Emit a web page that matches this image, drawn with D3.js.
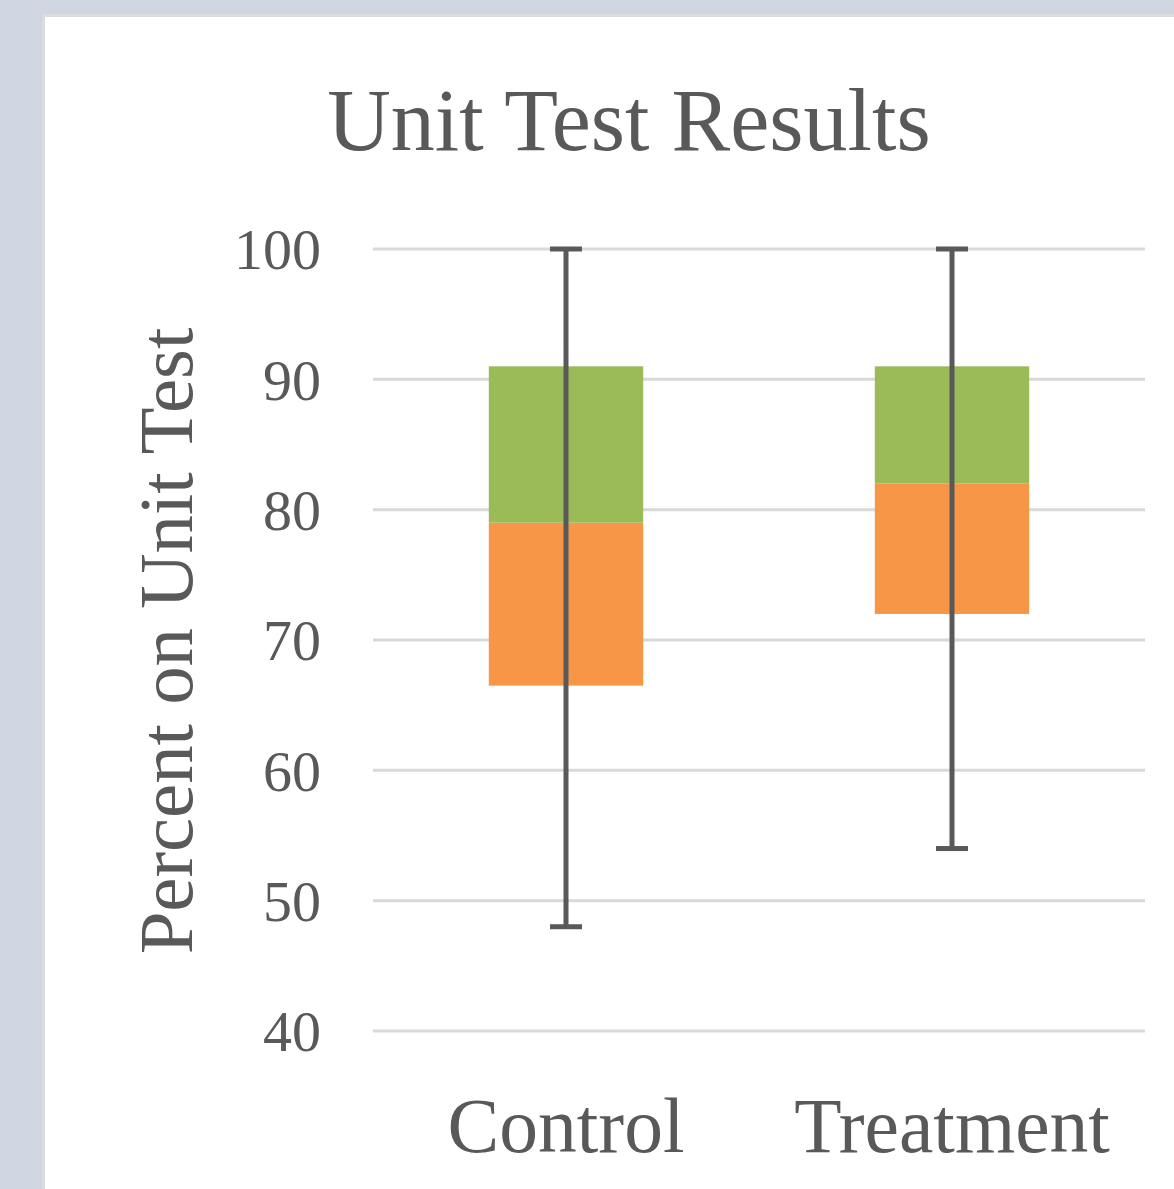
<!DOCTYPE html>
<html><head><meta charset="utf-8">
<script src="https://cdn.jsdelivr.net/npm/d3@7"></script>
<style>html,body{margin:0;padding:0;background:#cfd6e2;}svg{display:block;}</style>
</head><body>
<svg id="c" width="1174" height="1189"></svg>
<script>
const categories = ["Control", "Treatment"];
const minVals = [48, 54];
const q1Vals = [66.5, 72];
const medianVals = [79, 82];
const q3Vals = [91, 91];
const maxVals = [100, 100];
const yTicks = [40, 50, 60, 70, 80, 90, 100];
const titleText = "Unit Test Results";
const yTitle = "Percent on Unit Test";

(function () {
const svg = d3.select("#c");
const W = 1174, H = 1189;
svg.append("rect").attr("x", 0).attr("y", 0).attr("width", W).attr("height", H).attr("fill", "#cfd6e2");
svg.append("rect").attr("x", 42).attr("y", 14).attr("width", W).attr("height", H).attr("fill", "#dcdcdc");
svg.append("rect").attr("x", 45).attr("y", 17).attr("width", W).attr("height", H).attr("fill", "#ffffff");

const pL = 373, pR = 1145, pT = 249, pB = 1031;
const y = d3.scaleLinear().domain([40, 100]).range([pB, pT]);
const x = d3.scaleBand().domain(categories).range([pL, pR]).paddingInner(0.6).paddingOuter(0.3);

const font = "'Liberation Serif','Times New Roman',serif";
const txt = "#595959";

// gridlines
svg.append("g").selectAll("line").data(yTicks).join("line")
  .attr("x1", pL).attr("x2", pR)
  .attr("y1", d => y(d)).attr("y2", d => y(d))
  .attr("stroke", "#d9d9d9").attr("stroke-width", 3);

// y axis labels
const yAxis = d3.axisLeft(y).tickValues(yTicks).tickSize(0).tickPadding(0);
const ga = svg.append("g").attr("transform", `translate(321,0)`).call(yAxis);
ga.select(".domain").remove();
ga.selectAll("text").attr("font-family", font).attr("font-size", 58).attr("fill", txt).attr("dy", "0.34em");

// boxes
const data = categories.map((c, i) => ({c, min: minVals[i], q1: q1Vals[i], med: medianVals[i], q3: q3Vals[i], max: maxVals[i]}));
const g = svg.append("g");
g.selectAll("rect.lo").data(data).join("rect").attr("class", "lo")
  .attr("x", d => x(d.c)).attr("width", x.bandwidth())
  .attr("y", d => y(d.med)).attr("height", d => y(d.q1) - y(d.med))
  .attr("fill", "#f79646");
g.selectAll("rect.hi").data(data).join("rect").attr("class", "hi")
  .attr("x", d => x(d.c)).attr("width", x.bandwidth())
  .attr("y", d => y(d.q3)).attr("height", d => y(d.med) - y(d.q3))
  .attr("fill", "#9bbb59");
const cx = d => x(d.c) + x.bandwidth() / 2;
g.selectAll("line.w").data(data).join("line").attr("class", "w")
  .attr("x1", cx).attr("x2", cx).attr("y1", d => y(d.max)).attr("y2", d => y(d.min))
  .attr("stroke", "#595959").attr("stroke-width", 5);
["max", "min"].forEach(k => {
  g.selectAll("line.c" + k).data(data).join("line").attr("class", "c" + k)
    .attr("x1", d => cx(d) - 16).attr("x2", d => cx(d) + 16)
    .attr("y1", d => y(d[k])).attr("y2", d => y(d[k]))
    .attr("stroke", "#595959").attr("stroke-width", 5);
});

// x labels
const xAxis = d3.axisBottom(x).tickSize(0).tickPadding(0);
const gx = svg.append("g").attr("transform", `translate(0,1152)`).call(xAxis);
gx.select(".domain").remove();
gx.selectAll("text").attr("font-family", font).attr("font-size", 77.5).attr("fill", txt).attr("dy", 0);

// title
svg.append("text").attr("x", 629).attr("y", 150).attr("text-anchor", "middle")
  .attr("font-family", font).attr("font-size", 88).attr("fill", txt).text(titleText);

// y title
svg.append("text").attr("transform", "translate(192,641) rotate(-90)").attr("text-anchor", "middle")
  .attr("font-family", font).attr("font-size", 76.8).attr("fill", txt).text(yTitle);
})();
</script>
</body></html>
